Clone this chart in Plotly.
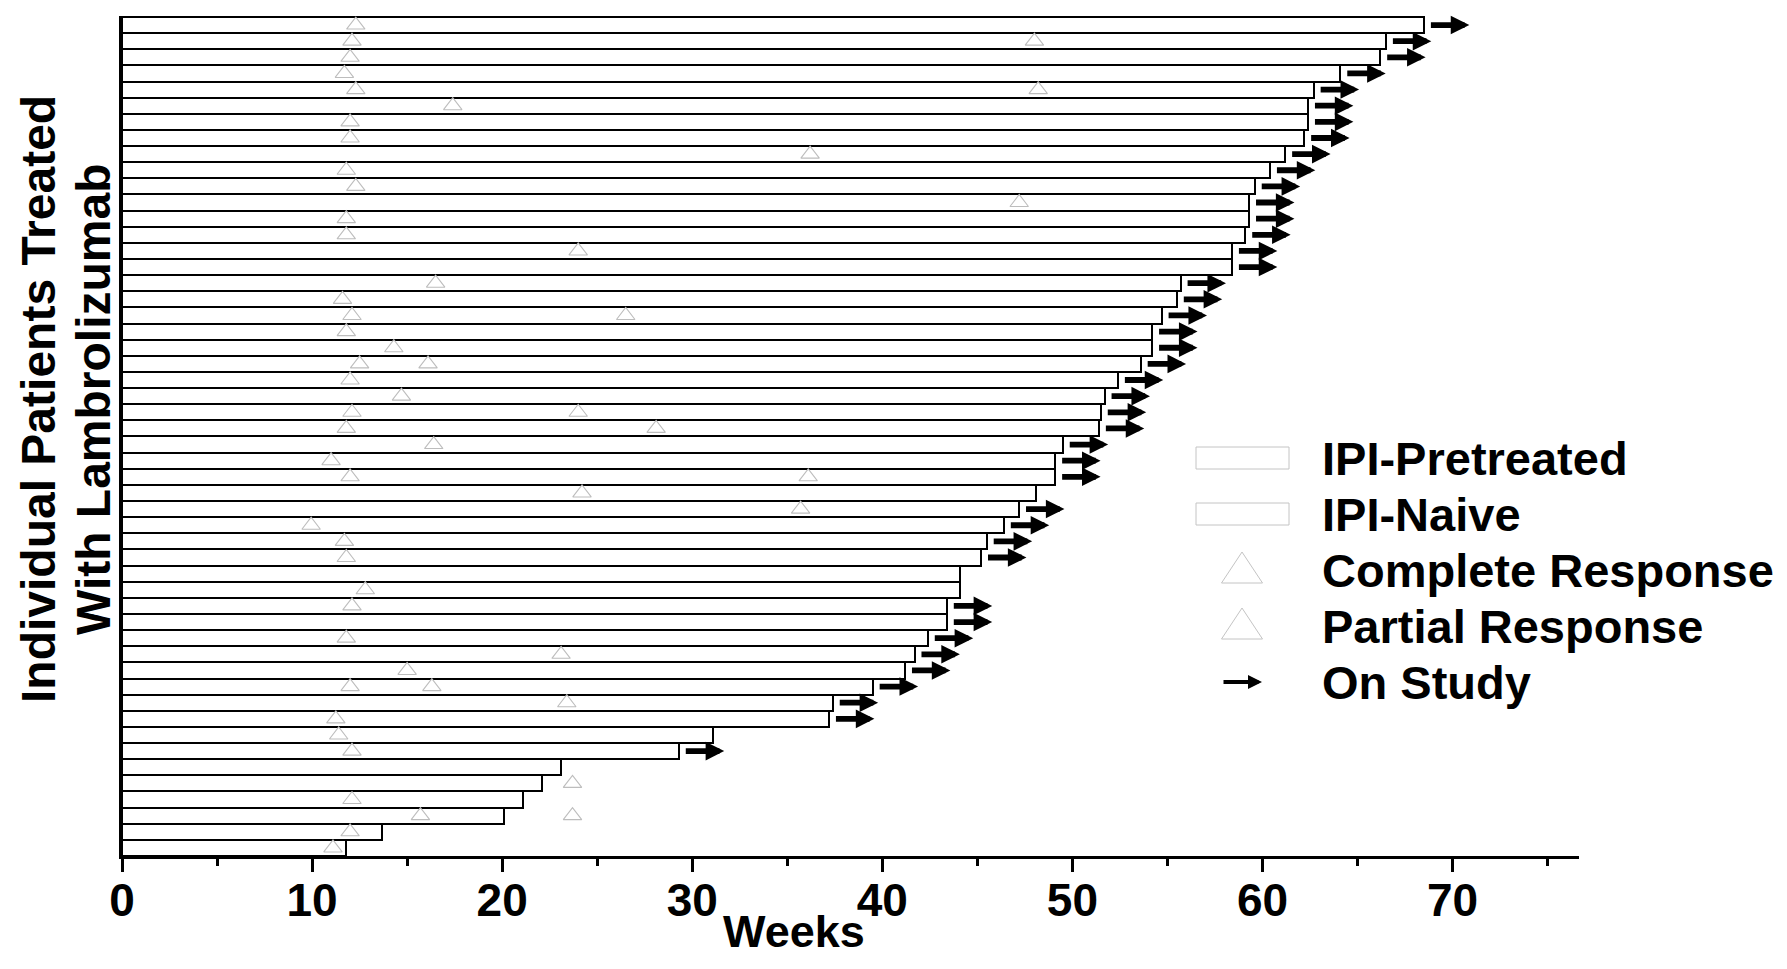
import plotly.graph_objects as go

# ---------------- data (row 1 = top of chart) ----------------
weeks_on_treatment = [68.5, 66.5, 66.2, 64.1, 62.7, 62.4, 62.4, 62.2, 61.2, 60.4,
                      59.6, 59.3, 59.3, 59.1, 58.4, 58.4, 55.7, 55.5, 54.7, 54.2,
                      54.2, 53.6, 52.4, 51.7, 51.5, 51.4, 49.5, 49.1, 49.1, 48.1,
                      47.2, 46.4, 45.5, 45.2, 44.1, 44.1, 43.4, 43.4, 42.4, 41.7,
                      41.2, 39.5, 37.4, 37.2, 31.1, 29.3, 23.1, 22.1, 21.1, 20.1,
                      13.7, 11.8]
on_study = [1] * 29 + [0] + [1] * 4 + [0, 0] + [1] * 8 + [0, 1] + [0] * 6

response_rows = [1, 2, 2, 3, 4, 5, 5, 6, 7, 8, 9, 10, 11, 12, 13, 14, 15, 17, 18,
                 19, 19, 20, 21, 22, 22, 23, 24, 25, 25, 26, 26, 27, 28, 29, 29,
                 30, 31, 32, 33, 34, 36, 37, 39, 40, 41, 42, 42, 43, 44, 45, 46,
                 48, 49, 50, 50, 51, 52]
response_weeks = [12.3, 12.1, 48.0, 12.0, 11.7, 12.3, 48.2, 17.4, 12.0, 12.0, 36.2,
                  11.8, 12.3, 47.2, 11.8, 11.8, 24.0, 16.5, 11.6, 12.1, 26.5, 11.8,
                  14.3, 12.5, 16.1, 12.0, 14.7, 12.1, 24.0, 11.8, 28.1, 16.4, 11.0,
                  12.0, 36.1, 24.2, 35.7, 9.95, 11.7, 11.8, 12.8, 12.1, 11.8, 23.1,
                  15.0, 12.0, 16.3, 23.4, 11.25, 11.4, 12.1, 23.7, 12.1, 15.7, 23.7,
                  12.0, 11.1]

x_ticks = [0, 10, 20, 30, 40, 50, 60, 70]
legend_labels = ["IPI-Pretreated", "IPI-Naive", "Complete Response",
                 "Partial Response", "On Study"]
y_title_lines = ["Individual Patients Treated", "With Lambrolizumab"]
x_title = "Weeks"

# ---------------- layout geometry (page pixels) ----------------
OFF = 8                      # default page body margin
FIG_W, FIG_H = 1787 - 2 * OFF, 969 - 2 * OFF
L, R, T, B = 122, 1579, 16, 856
PW, PH = R - L, B - T
n = len(weeks_on_treatment)
FONT = "Liberation Sans, Arial, sans-serif"


def px(xp):
    return (xp - L) / PW


def py(yp):
    return (B - yp) / PH


rows = list(range(1, n + 1))
ypos = [n + 1 - r for r in rows]

fig = go.Figure()
fig.add_trace(go.Bar(
    x=weeks_on_treatment, y=ypos, orientation="h", name="Patients",
    marker=dict(color="white", line=dict(color="black", width=2)),
    showlegend=False, hoverinfo="x",
))
fig.add_trace(go.Scatter(
    x=response_weeks, y=[n + 1 - r for r in response_rows], mode="markers",
    name="Response", cliponaxis=False, showlegend=False,
    marker=dict(symbol="triangle-up-open", size=16, color="#bdbdbd",
                line=dict(width=1.1)),
))

annotations = []
gap, alen = 0.28, 2.1
for w, y, s in zip(weeks_on_treatment, ypos, on_study):
    if s:
        annotations.append(dict(
            x=w + gap + alen, y=y, ax=w + gap, ay=y,
            xref="x", yref="y", axref="x", ayref="y",
            text="", showarrow=True, arrowhead=2, arrowsize=0.64,
            arrowwidth=5.8, arrowcolor="black", standoff=0, startstandoff=0,
        ))

# axis titles
for txt, xc in zip(y_title_lines, [38, 93]):
    annotations.append(dict(
        x=px(xc), y=py(399), xref="paper", yref="paper", text=txt,
        textangle=-90, showarrow=False, xanchor="center", yanchor="middle",
        font=dict(family=FONT, size=48, color="black", weight="bold"),
    ))
annotations.append(dict(
    x=px(794), y=py(932), xref="paper", yref="paper", text=x_title,
    showarrow=False, xanchor="center", yanchor="middle",
    font=dict(family=FONT, size=45, color="black", weight="bold"),
))

# manual legend
shapes = []
text_y = [458, 514, 570, 626, 682]
for lab, ty in zip(legend_labels, text_y):
    annotations.append(dict(
        x=px(1320), y=py(ty), xref="paper", yref="paper", text=lab,
        showarrow=False, xanchor="left", yanchor="middle",
        font=dict(family=FONT, size=47, color="black", weight="bold"),
    ))
for ty in text_y[:2]:
    shapes.append(dict(
        type="rect", xref="paper", yref="paper",
        x0=px(1196), x1=px(1289), y0=py(ty + 11), y1=py(ty - 11),
        line=dict(color="#c4c4c4", width=1), fillcolor="white",
    ))
for ty in text_y[2:4]:
    top, bot = ty - 18, ty + 13
    shapes.append(dict(
        type="path", xref="paper", yref="paper",
        path=f"M {px(1221.5)},{py(bot)} L {px(1262.5)},{py(bot)} "
             f"L {px(1242)},{py(top)} Z",
        line=dict(color="#c4c4c4", width=1), fillcolor="white",
    ))
annotations.append(dict(
    x=px(1262), y=py(text_y[4]), xref="paper", yref="paper",
    ax=-40, ay=0, text="", showarrow=True, arrowhead=2, arrowsize=0.7,
    arrowwidth=4, arrowcolor="black", standoff=0, startstandoff=0,
))

fig.update_layout(
    width=FIG_W, height=FIG_H, autosize=False,
    margin=dict(l=L - OFF, r=(1787 - OFF) - R, t=T - OFF,
                b=(969 - OFF) - B, pad=0),
    paper_bgcolor="white", plot_bgcolor="white",
    bargap=0, showlegend=False,
    annotations=annotations, shapes=shapes,
    font=dict(family=FONT, color="black"),
)
fig.update_xaxes(
    range=[0, 76.65], tickvals=x_ticks, ticks="outside", ticklen=13,
    tickwidth=3, tickcolor="black", showline=True, linewidth=3,
    linecolor="black", showgrid=False, zeroline=False,
    ticklabelstandoff=-11,
    tickfont=dict(family=FONT, size=46, color="black", weight="bold"),
    minor=dict(dtick=5, tick0=0, ticks="outside", ticklen=7, tickwidth=3,
               tickcolor="black", showgrid=False),
)
fig.update_yaxes(
    range=[0.5, n + 0.56], showticklabels=False, ticks="", showline=True,
    linewidth=2.5, linecolor="black", showgrid=False, zeroline=False,
)

fig.write_html("out.html")
